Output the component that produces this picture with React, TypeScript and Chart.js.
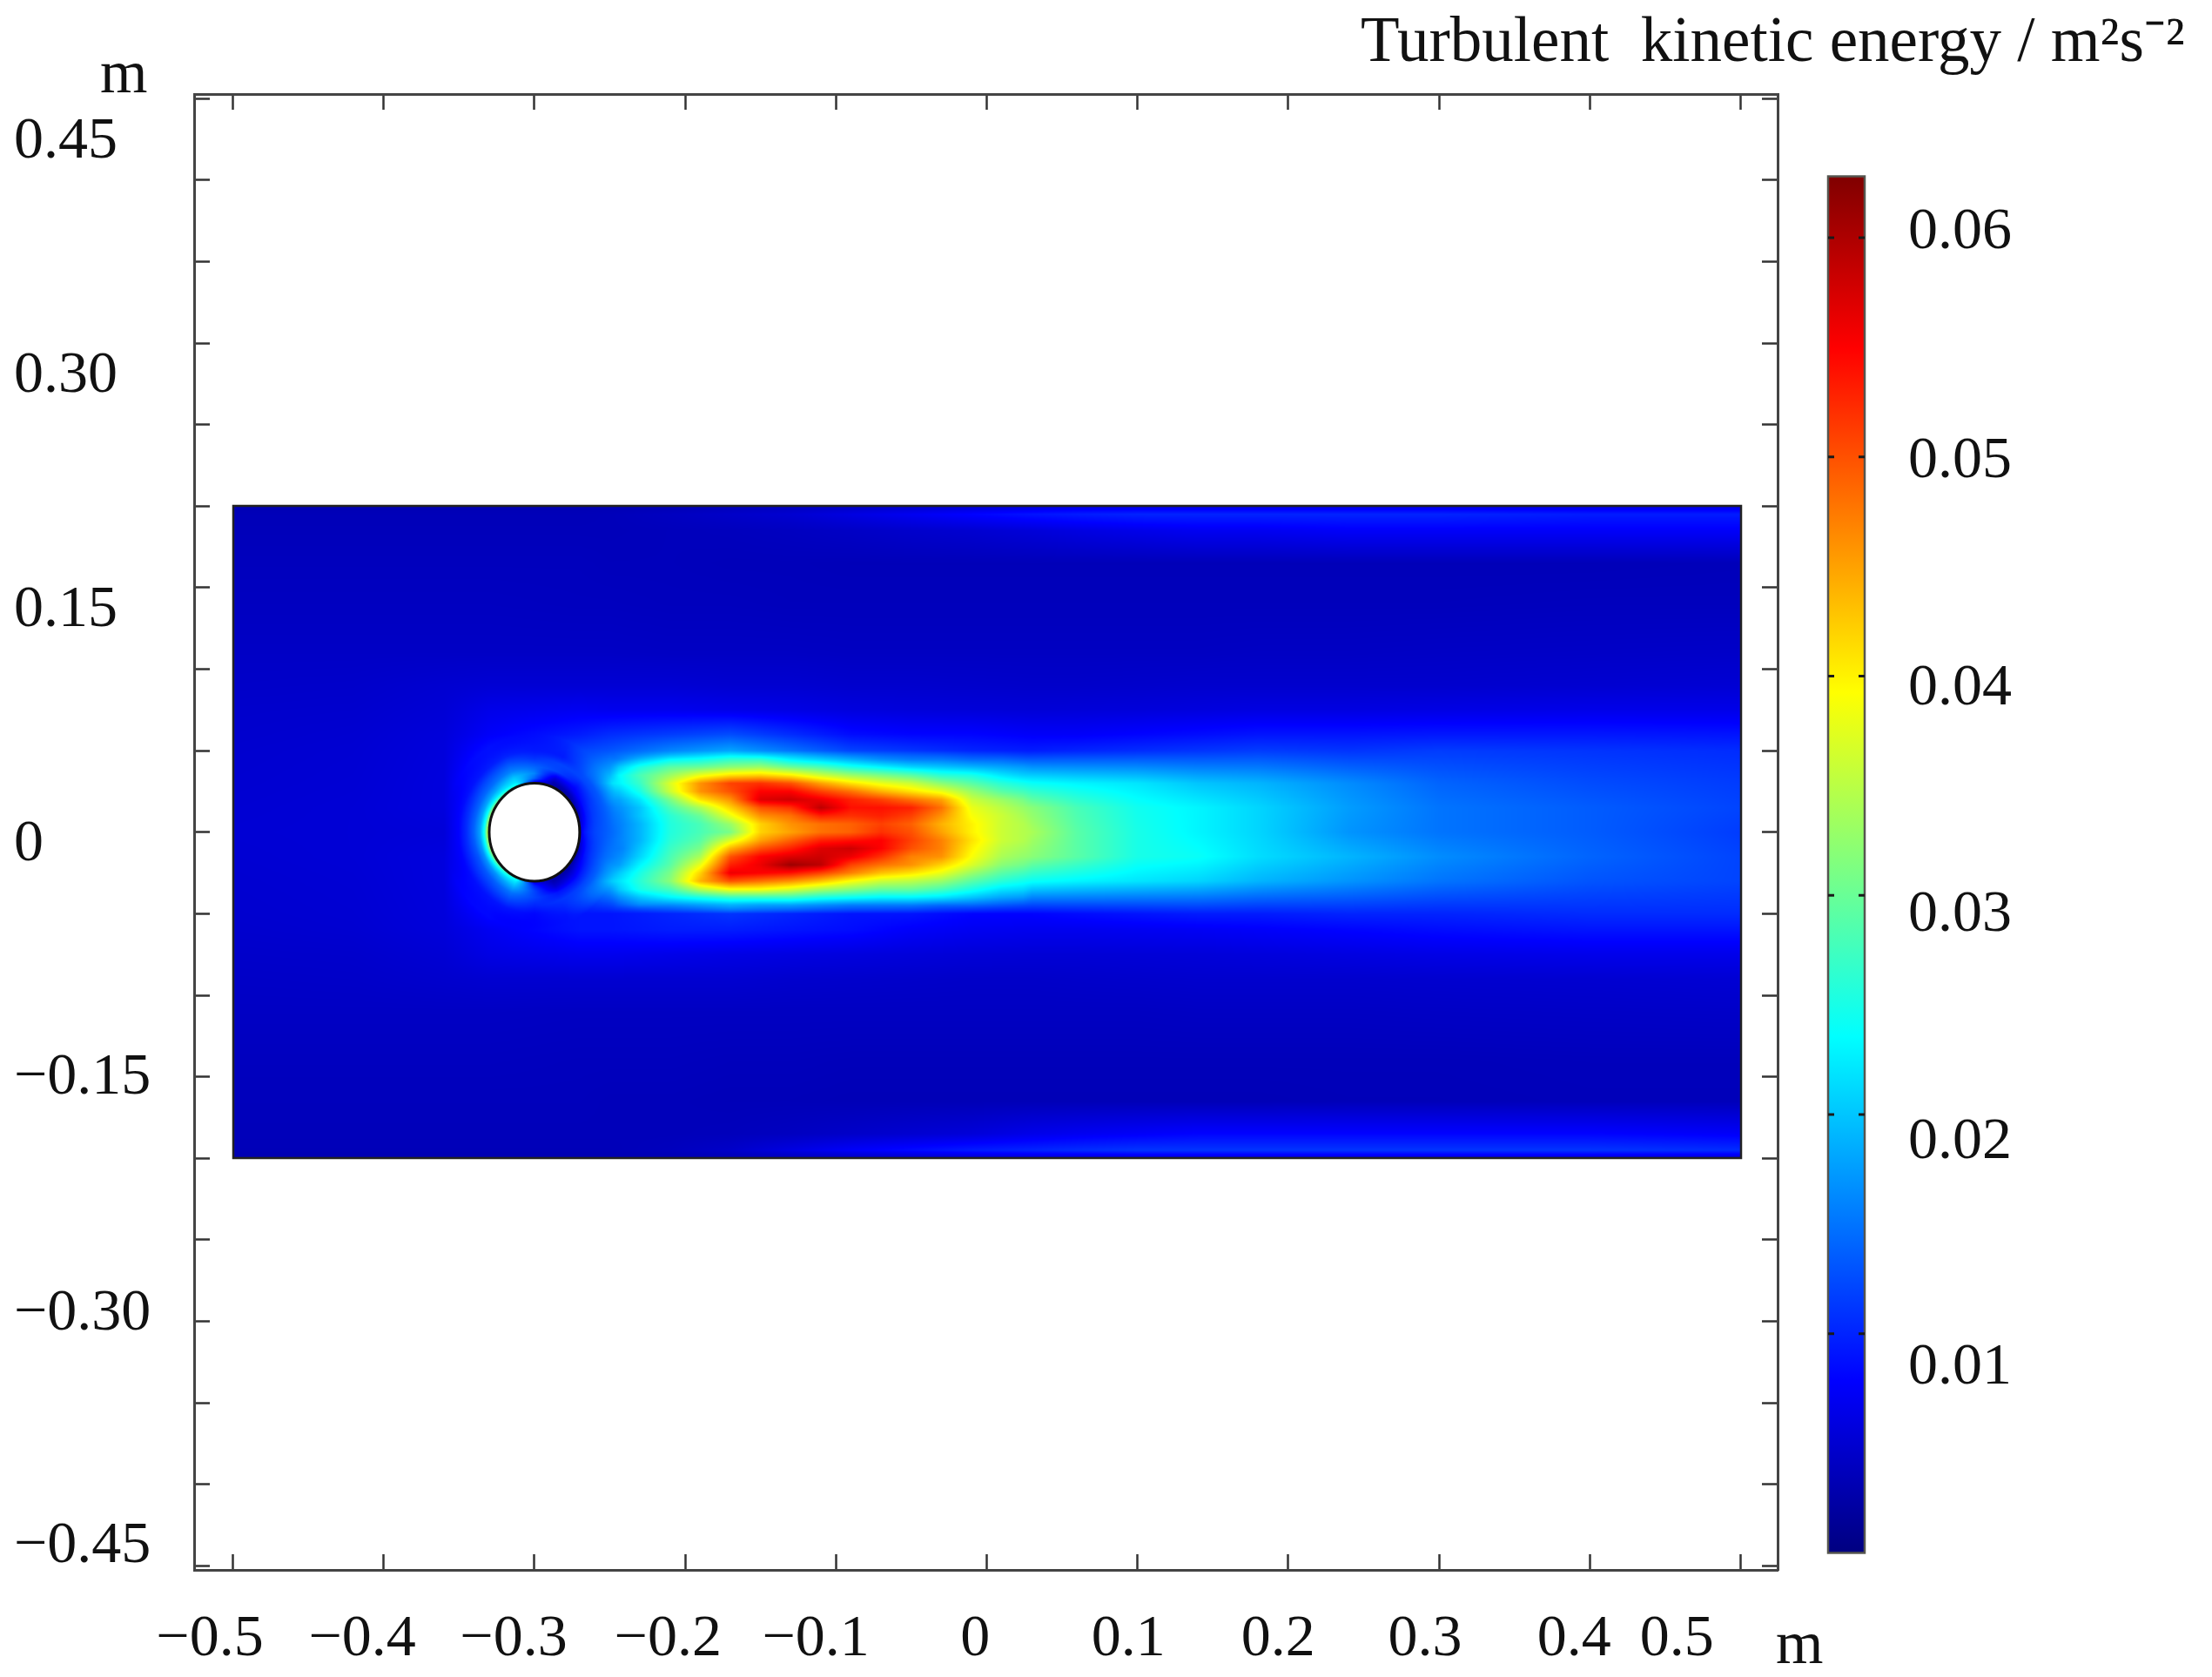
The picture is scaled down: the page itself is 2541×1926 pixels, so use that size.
import React, { useEffect, useRef } from "react";
import { Chart, registerables } from "chart.js";

Chart.register(...registerables);

// ---- axis ticks and labels (labels in the source sit apart from their ticks) ----
const xTickValues = [-0.5, -0.4, -0.3, -0.2, -0.1, 0, 0.1, 0.2, 0.3, 0.4, 0.5];
const xTickLabels = ["−0.5", "−0.4", "−0.3", "−0.2", "−0.1", "0", "0.1", "0.2", "0.3", "0.4", "0.5"];
const xLabelAnchors = [-0.5153, -0.4142, -0.3138, -0.2115, -0.1134, -0.0077, 0.0939, 0.1932, 0.2907, 0.3895, 0.4576];

const yTickValues = [0.45, 0.4, 0.35, 0.3, 0.25, 0.2, 0.15, 0.1, 0.05, 0, -0.05, -0.1, -0.15, -0.2, -0.25, -0.3, -0.35, -0.4, -0.45];
const yTickLabels = ["0.45", "0.30", "0.15", "0", "−0.15", "−0.30", "−0.45"];
const yLabelAnchors = [0.4234, 0.2797, 0.136, -0.0079, -0.1507, -0.2953, -0.4383];

const cbTickValues = [0.06, 0.05, 0.04, 0.03, 0.02, 0.01];
const cbTickLabels = ["0.06", "0.05", "0.04", "0.03", "0.02", "0.01"];
const cbLabelAnchors = [0.06025, 0.0498, 0.03943, 0.0291, 0.01873, 0.00842];
const cbMin = 0;
const cbMax = 0.0628;

const titleText = "Turbulent  kinetic energy / m²s⁻²";
const unitText = "m";

// ---- turbulent kinetic energy, in 0.001 m²/s² ----
const domain = { xMin: -0.5, xMax: 0.5, yMin: -0.2, yMax: 0.2 };
const cylinder = { x: -0.3, y: 0, r: 0.03 };

const fieldXs = [-0.5, -0.42, -0.36, -0.33, -0.27, -0.25, -0.21, -0.17, -0.13, -0.09, -0.05, -0.01, 0.03, 0.06, 0.1, 0.14, 0.18, 0.24, 0.3, 0.4, 0.5];
const fieldYs = [0.2, 0.195, 0.185, 0.165, 0.14, 0.11, 0.09, 0.075, 0.06, 0.05, 0.03, 0.015, 0, -0.015, -0.03, -0.05, -0.06, -0.075, -0.09, -0.11, -0.14, -0.165, -0.185, -0.195, -0.2];
const fieldRows = [
  [3.2, 3.2, 3.2, 3.2, 3.2, 3.2, 3.2, 3.5, 3.8, 4.2, 4.6, 5, 5.5, 6, 6, 6, 6, 6, 6, 6, 6],
  [3.5, 3.5, 3.5, 3.5, 3.5, 3.6, 4, 4.5, 5, 6, 7, 8, 9, 9.5, 10, 10, 10, 10, 10, 9.5, 9.5],
  [3.6, 3.6, 3.6, 3.6, 3.6, 3.6, 3.7, 3.8, 4, 4.3, 4.7, 5, 5.5, 6, 6.5, 7, 7, 7.5, 7.5, 7.5, 7.5],
  [3.8, 3.8, 3.8, 3.8, 3.8, 3.7, 3.7, 3.6, 3.6, 3.5, 3.5, 3.5, 3.5, 3.5, 3.5, 3.5, 3.5, 3.5, 3.5, 3.5, 3.6],
  [4, 4, 4, 4, 3.9, 3.9, 3.8, 3.8, 3.7, 3.7, 3.7, 3.7, 3.7, 3.7, 3.7, 3.7, 3.7, 3.7, 3.7, 3.8, 3.8],
  [4.3, 4.3, 4.3, 4.3, 4.3, 4.3, 4.2, 4.2, 4.2, 4.1, 4.1, 4.1, 4.1, 4.1, 4.1, 4.1, 4.2, 4.2, 4.3, 4.4, 4.5],
  [4.5, 4.6, 5, 5.2, 5.2, 5.2, 5.2, 5, 5, 4.8, 4.8, 4.7, 4.6, 4.6, 4.7, 4.8, 4.8, 4.8, 4.8, 5, 5.2],
  [4.7, 4.8, 5.3, 6.5, 7, 6.8, 6.8, 6.5, 6.2, 5.8, 5.6, 5.5, 5.4, 5.5, 5.6, 5.8, 6, 6, 6.2, 6.5, 6.5],
  [4.8, 5, 5.6, 7.5, 9.5, 10.5, 11.5, 12.5, 10.5, 8.5, 8, 8, 7.5, 7.5, 8, 8.5, 9, 9, 9.2, 9.2, 9],
  [4.9, 5.1, 5.7, 9, 12, 13, 16, 18, 15, 12, 11, 10, 9.5, 10, 10.5, 11, 11.5, 11, 11.5, 11, 10.5],
  [5, 5.2, 5.8, 12, 14, 21, 37, 50, 49, 39, 33, 28, 24, 23, 22, 20, 19, 16.5, 14, 12.5, 11.5],
  [5.1, 5.3, 5.8, 12, 13, 15, 28, 42, 51, 53, 51, 37, 32, 28, 24.5, 23, 21, 17.5, 15, 13.5, 12],
  [5.2, 5.3, 5.5, 12, 13, 14, 25.5, 30, 43, 47, 48, 41, 34, 29, 25, 23, 21, 17, 15, 13.5, 11.5],
  [5.1, 5.3, 5.8, 12, 13, 14, 28, 50, 57, 55, 44, 39, 32, 29, 25, 24, 21.5, 19, 16.5, 14, 12],
  [5, 5.2, 5.8, 12, 14, 20, 32, 49, 44, 37, 33, 28, 24, 23, 22, 21, 19, 17, 15, 13, 12],
  [4.9, 5.1, 5.7, 8.5, 9, 9, 10, 11, 10, 9, 9, 8, 8, 8.5, 9, 9.5, 9.5, 10, 10, 10.5, 10.5],
  [4.8, 5, 5.6, 7, 9, 9, 9.5, 9.5, 9, 8.5, 7.5, 7, 6.8, 6.8, 7, 7.2, 7.5, 8, 8.5, 9, 9],
  [4.6, 4.7, 5.2, 6.2, 6.8, 6.8, 6.5, 6.2, 6, 5.8, 5.6, 5.4, 5.3, 5.3, 5.4, 5.5, 5.7, 6, 6.3, 6.6, 6.6],
  [4.4, 4.5, 4.8, 5, 5, 5, 5, 5, 4.8, 4.7, 4.6, 4.5, 4.5, 4.6, 4.7, 4.8, 4.8, 4.8, 4.9, 5, 5.2],
  [4.2, 4.2, 4.2, 4.2, 4.1, 4.1, 4.1, 4.1, 4.1, 4.1, 4.1, 4.1, 4.1, 4.1, 4.1, 4.2, 4.2, 4.2, 4.3, 4.4, 4.5],
  [3.9, 3.9, 3.9, 3.9, 3.8, 3.8, 3.8, 3.7, 3.7, 3.6, 3.6, 3.6, 3.6, 3.6, 3.6, 3.6, 3.6, 3.6, 3.6, 3.7, 3.7],
  [3.7, 3.7, 3.7, 3.7, 3.7, 3.6, 3.6, 3.5, 3.5, 3.4, 3.4, 3.4, 3.4, 3.4, 3.4, 3.4, 3.4, 3.5, 3.5, 3.6, 3.6],
  [3.6, 3.6, 3.6, 3.6, 3.6, 3.6, 3.6, 3.7, 4, 4.5, 5, 5.5, 6.5, 7, 7.5, 8, 8, 8, 8, 8, 7.5],
  [3.5, 3.5, 3.5, 3.5, 3.5, 3.5, 3.8, 4.5, 6, 7.5, 8.5, 9.5, 10, 10.5, 11, 11, 11, 11, 11, 11, 10.5],
  [3, 3, 3, 3, 3, 3, 3, 3.2, 3.5, 3.8, 4.2, 4.6, 5, 5, 5.2, 5.2, 5.2, 5.2, 5.2, 5.2, 5],
];

// fine table around the hot lobes: one array per x station, values from y = 0.05 down to y = -0.05
const lobeYs = [0.05, 0.045, 0.04, 0.035, 0.03, 0.025, 0.02, 0.015, 0.01, 0.005, 0, -0.005, -0.01, -0.015, -0.02, -0.025, -0.03, -0.035, -0.04, -0.045, -0.05];
const lobeXs = [-0.25, -0.23, -0.21, -0.19, -0.17, -0.15, -0.13, -0.11, -0.09, -0.07, -0.05, -0.03, -0.01, 0.01, 0.03];
const lobeColumns = [
  [13, 14, 18, 21, 21, 18, 16, 15, 14, 14, 14, 14, 13, 14, 15, 18, 20, 18, 15, 12, 9],
  [14, 19, 25, 28, 27, 25, 22, 20, 20, 19, 19, 19, 20, 21, 23, 25, 26, 25, 20, 16, 10],
  [16, 23, 29, 33, 37, 36, 31, 28, 26, 25.5, 25.5, 26, 27, 28, 29, 31, 32, 28, 23, 16, 11],
  [17, 24, 30, 38, 46, 46, 41, 34, 30, 28, 28, 29, 31, 34, 38, 42, 44, 35, 25, 17, 11],
  [18, 26, 32, 41, 51, 50, 46, 42, 38, 33, 31, 37, 44, 50, 53, 56, 50, 39, 27, 18, 12],
  [17, 26, 33, 42, 52, 55, 57, 50, 46, 42, 42, 45, 50, 55, 56, 55, 48, 39, 27, 17, 11],
  [15, 22, 30, 40, 50, 55, 58, 52, 48, 46, 45, 49, 53, 57, 61, 54, 46, 37, 27, 17, 11],
  [13, 20, 28, 36, 45, 51, 56, 59, 53, 48, 48, 53, 57, 58, 59, 51, 43, 34, 25, 16, 10],
  [12, 18, 25, 33, 41, 48, 53, 54, 52, 49, 49, 54, 58, 56, 51, 47, 39, 32, 24, 15, 10],
  [11, 16, 23, 31, 38, 44, 51, 54, 53, 51, 52, 55, 55, 52, 48, 43, 36, 30, 23, 15, 10],
  [11, 15, 21, 29, 36, 41, 48, 53, 51, 49, 50, 51, 50, 47, 46, 41, 35, 30, 23, 15, 10],
  [11, 15, 20, 26, 32, 38, 45, 48, 46, 44, 45, 47, 47, 46, 42, 38, 33, 28, 22, 14, 9],
  [10, 14, 19, 25, 29, 33, 36, 38, 39, 40, 40, 41, 40, 39, 37, 33, 29, 25, 20, 14, 9],
  [10, 14, 18, 22, 26, 29, 33, 35, 36, 36, 36, 36, 35, 34, 32, 29, 26, 22, 18, 13, 8],
  [9, 13, 17, 20, 24, 27, 30, 32, 33, 34, 34, 34, 33, 32, 30, 27, 24, 21, 17, 12, 8],
];

// boundary layer round the cylinder: one array per angle (degrees from +x), values per radius
const ringRadii = [0.03, 0.0315, 0.033, 0.036, 0.04, 0.045, 0.05, 0.06];
const ringAngles = [0, 22.5, 45, 67.5, 90, 112.5, 135, 157.5, 180, 202.5, 225, 247.5, 270, 292.5, 315, 337.5];
const ringColumns = [
  [5, 7, 9, 10.5, 12, 13, 14, 16],
  [2.5, 3.5, 6, 9, 11, 12.5, 14, 19],
  [2, 2.5, 3.5, 7, 9, 12, 13.5, 15],
  [2, 2.5, 3, 6, 12, 12, 9, 7],
  [6, 10, 14, 16, 14, 11, 9, 7],
  [22, 24, 22, 20, 16, 13, 10, 6.5],
  [30, 26, 22, 18, 14.5, 12, 9, 6],
  [34, 30, 24, 18, 14, 11, 8.5, 5.7],
  [37, 33, 25, 18, 14, 10.5, 8, 5.6],
  [34, 30, 24, 17, 13, 10.5, 8, 5.6],
  [30, 26, 22, 17, 13.5, 11, 8.5, 5.8],
  [24, 24, 22, 19, 15, 12, 9, 6],
  [5, 8, 10, 12, 12, 10, 8, 6.5],
  [2, 2.5, 3.2, 5, 9, 11, 10, 8],
  [2, 2.5, 3.5, 6, 9, 12, 14, 17],
  [2.5, 3.5, 6, 9, 11, 13, 15, 20],
];

// ---- layout and style ----
const FONT = "'Liberation Serif', 'Times New Roman', serif";
const TEXT = "#111111";
const AXIS = "#444444";
const frame = { left: 223, top: 108, right: 2042, bottom: 1803 };
const barPx = { left: 2100, right: 2142 };
const xRange = { min: -0.5257, max: 0.5245 };
const yRange = { min: -0.4525, max: 0.4528 };
const cbRange = { min: -0.000776, max: 0.066555 };

const clamp01 = (v: number) => (v < 0 ? 0 : v > 1 ? 1 : v);
const jet = (f: number): [number, number, number] => [
  255 * clamp01(Math.min(4 * f - 1.5, -4 * f + 4.5)),
  255 * clamp01(Math.min(4 * f - 0.5, -4 * f + 3.5)),
  255 * clamp01(Math.min(4 * f + 0.5, -4 * f + 2.5)),
];

const bracket = (arr: number[], v: number, sign: number): [number, number] => {
  const t = v * sign;
  let i = 0;
  while (i < arr.length - 2 && arr[i + 1] * sign < t) i++;
  const a = clamp01((t - arr[i] * sign) / ((arr[i + 1] - arr[i]) * sign));
  return [i, a];
};

const sampleOuter = (x: number, y: number) => {
  const [i, a] = bracket(fieldXs, x, 1);
  const [j, b] = bracket(fieldYs, y, -1);
  const r0 = fieldRows[j], r1 = fieldRows[j + 1];
  return (r0[i] * (1 - a) + r0[i + 1] * a) * (1 - b) + (r1[i] * (1 - a) + r1[i + 1] * a) * b;
};
const sampleLobes = (x: number, y: number) => {
  const [i, a] = bracket(lobeXs, x, 1);
  const [j, b] = bracket(lobeYs, y, -1);
  const c0 = lobeColumns[i], c1 = lobeColumns[i + 1];
  return (c0[j] * (1 - b) + c0[j + 1] * b) * (1 - a) + (c1[j] * (1 - b) + c1[j + 1] * b) * a;
};
const sampleRing = (theta: number, r: number) => {
  const step = ringAngles[1] - ringAngles[0];
  const p = theta / step;
  const i = Math.floor(p) % ringAngles.length;
  const a = p - Math.floor(p);
  const c0 = ringColumns[i], c1 = ringColumns[(i + 1) % ringAngles.length];
  const [j, b] = bracket(ringRadii, r, 1);
  return (c0[j] * (1 - b) + c0[j + 1] * b) * (1 - a) + (c1[j] * (1 - b) + c1[j + 1] * b) * a;
};
const sampleField = (x: number, y: number) => {
  let v = sampleOuter(x, y);
  const edge = Math.min(x - lobeXs[0], lobeXs[lobeXs.length - 1] - x, y - lobeYs[lobeYs.length - 1], lobeYs[0] - y);
  if (edge > 0) {
    const w = clamp01(edge / 0.006);
    v = v * (1 - w) + sampleLobes(x, y) * w;
  }
  const dx = x - cylinder.x, dy = y - cylinder.y;
  const r = Math.hypot(dx, dy);
  if (r < ringRadii[ringRadii.length - 1]) {
    const w = clamp01((ringRadii[ringRadii.length - 1] - r) / 0.012);
    const theta = ((Math.atan2(dy, dx) * 180) / Math.PI + 360) % 360;
    v = v * (1 - w) + sampleRing(theta, Math.max(r, ringRadii[0])) * w;
  }
  return v;
};

const fieldPlugin = {
  id: "field",
  beforeDatasetsDraw(chart: any) {
    const { ctx } = chart;
    const sx = chart.scales.x, sy = chart.scales.y;
    const left = Math.round(sx.getPixelForValue(domain.xMin));
    const right = Math.round(sx.getPixelForValue(domain.xMax));
    const top = Math.round(sy.getPixelForValue(domain.yMax));
    const bottom = Math.round(sy.getPixelForValue(domain.yMin));
    const w = right - left, h = bottom - top;
    const off = document.createElement("canvas");
    off.width = w;
    off.height = h;
    const octx = off.getContext("2d")!;
    const img = octx.createImageData(w, h);
    for (let py = 0; py < h; py++) {
      const yv = sy.getValueForPixel(top + py + 0.5);
      for (let px = 0; px < w; px++) {
        const xv = sx.getValueForPixel(left + px + 0.5);
        const c = jet(sampleField(xv, yv) / (cbMax * 1000));
        const k = (py * w + px) * 4;
        img.data[k] = c[0];
        img.data[k + 1] = c[1];
        img.data[k + 2] = c[2];
        img.data[k + 3] = 255;
      }
    }
    octx.putImageData(img, 0, 0);
    ctx.save();
    ctx.drawImage(off, left, top);
    ctx.strokeStyle = "#222222";
    ctx.lineWidth = 2.5;
    ctx.strokeRect(left, top, w, h);
    // cylinder
    const cx = sx.getPixelForValue(cylinder.x), cy = sy.getPixelForValue(cylinder.y);
    const rx = Math.abs(sx.getPixelForValue(cylinder.x + cylinder.r) - cx);
    const ry = Math.abs(sy.getPixelForValue(cylinder.y + cylinder.r) - cy);
    ctx.beginPath();
    ctx.ellipse(cx, cy, rx, ry, 0, 0, Math.PI * 2);
    ctx.fillStyle = "#ffffff";
    ctx.fill();
    ctx.strokeStyle = "#111111";
    ctx.lineWidth = 3;
    ctx.stroke();

    // colour bar, drawn along its own scale
    const cb = chart.scales.cb;
    const bTop = cb.getPixelForValue(cbMax), bBottom = cb.getPixelForValue(cbMin);
    const g = ctx.createLinearGradient(0, bBottom, 0, bTop);
    [0, 0.125, 0.375, 0.625, 0.875, 1].forEach((f) => {
      const c = jet(f);
      g.addColorStop(f, `rgb(${c[0]},${c[1]},${c[2]})`);
    });
    ctx.fillStyle = g;
    ctx.fillRect(barPx.left, bTop, barPx.right - barPx.left, bBottom - bTop);
    ctx.strokeStyle = "#55554f";
    ctx.lineWidth = 2.5;
    ctx.strokeRect(barPx.left, bTop, barPx.right - barPx.left, bBottom - bTop);
    ctx.strokeStyle = "#1a1a1a";
    ctx.lineWidth = 3;
    cbTickValues.forEach((t) => {
      const p = cb.getPixelForValue(t);
      ctx.beginPath();
      ctx.moveTo(barPx.left, p);
      ctx.lineTo(barPx.left + 7, p);
      ctx.moveTo(barPx.right - 7, p);
      ctx.lineTo(barPx.right, p);
      ctx.stroke();
    });

    // free text
    ctx.fillStyle = TEXT;
    ctx.textBaseline = "alphabetic";
    ctx.textAlign = "left";
    ctx.font = `73px ${FONT}`;
    ctx.fillText(titleText, 1563, 70);
    ctx.font = `70px ${FONT}`;
    ctx.fillText(unitText, 115, 106);
    ctx.fillText(unitText, 2040, 1910);
    ctx.restore();
  },
};

const clearPadding = (scale: any) => {
  scale.paddingLeft = 0;
  scale.paddingRight = 0;
  scale.paddingTop = 0;
  scale.paddingBottom = 0;
};
const anchored = (anchors: number[]) => (scale: any) => {
  scale.ticks = anchors.map((value) => ({ value }));
};
const fixedHeight = (h: number) => (scale: any) => {
  scale.height = h;
  clearPadding(scale);
};
const fixedWidth = (w: number) => (scale: any) => {
  scale.width = w;
  clearPadding(scale);
};
const labelFont = { family: FONT, size: 68 };
const tickGrid = {
  drawOnChartArea: false,
  drawTicks: true,
  tickLength: -18,
  tickWidth: 2.5,
  tickColor: "#333333",
};
const frameBorder = { display: true, color: AXIS, width: 3 };
const noGrid = { display: false, drawTicks: false };
const noBorder = { display: false };

export default function App() {
  const ref = useRef<HTMLCanvasElement>(null);
  useEffect(() => {
    const chart = new Chart(ref.current!, {
      type: "scatter",
      data: {
        datasets: [
          {
            label: "Turbulent kinetic energy",
            xAxisID: "x",
            yAxisID: "y",
            data: fieldYs.flatMap((y, j) => fieldXs.map((x, i) => ({ x, y, v: fieldRows[j][i] }))),
            pointRadius: 0,
            pointHoverRadius: 0,
            showLine: false,
          },
        ],
      },
      options: {
        animation: false,
        responsive: false,
        devicePixelRatio: 1,
        events: [],
        layout: { padding: { left: 16, top: frame.top, right: 0, bottom: 0 } },
        plugins: { legend: { display: false }, tooltip: { enabled: false }, title: { display: false } },
        scales: {
          x: {
            axis: "x", type: "linear", position: "bottom", ...xRange, weight: 0,
            afterBuildTicks: anchored(xTickValues),
            afterFit: fixedHeight(0),
            ticks: { display: false, autoSkip: false },
            grid: tickGrid, border: frameBorder,
          },
          xLabels: {
            axis: "x", type: "linear", position: "bottom", ...xRange, weight: 1,
            afterBuildTicks: anchored(xLabelAnchors),
            afterFit: fixedHeight(1926 - frame.bottom),
            ticks: {
              autoSkip: false, maxRotation: 0, minRotation: 0, padding: 39, color: TEXT, font: labelFont,
              callback: (_v: any, i: number) => xTickLabels[i],
            },
            grid: noGrid, border: noBorder,
          },
          xTop: {
            axis: "x", type: "linear", position: "top", ...xRange,
            afterBuildTicks: anchored(xTickValues),
            afterFit: fixedHeight(0),
            ticks: { display: false, autoSkip: false },
            grid: tickGrid, border: frameBorder,
          },
          y: {
            axis: "y", type: "linear", position: "left", ...yRange, weight: 0,
            afterBuildTicks: anchored(yTickValues),
            afterFit: fixedWidth(0),
            ticks: { display: false, autoSkip: false },
            grid: tickGrid, border: frameBorder,
          },
          yLabels: {
            axis: "y", type: "linear", position: "left", ...yRange, weight: 1,
            afterBuildTicks: anchored(yLabelAnchors),
            afterFit: fixedWidth(frame.left - 16),
            ticks: {
              autoSkip: false, crossAlign: "far", color: TEXT, font: labelFont,
              callback: (_v: any, i: number) => yTickLabels[i],
            },
            grid: noGrid, border: noBorder,
          },
          yRight: {
            axis: "y", type: "linear", position: "right", ...yRange, weight: 0,
            afterBuildTicks: anchored(yTickValues),
            afterFit: fixedWidth(0),
            ticks: { display: false, autoSkip: false },
            grid: tickGrid, border: frameBorder,
          },
          cb: {
            axis: "y", type: "linear", position: "right", ...cbRange, weight: 1,
            afterBuildTicks: anchored(cbTickValues),
            afterFit: fixedWidth(0),
            ticks: { display: false, autoSkip: false },
            grid: noGrid, border: noBorder,
          },
          cbLabels: {
            axis: "y", type: "linear", position: "right", ...cbRange, weight: 2,
            afterBuildTicks: anchored(cbLabelAnchors),
            afterFit: fixedWidth(2541 - frame.right),
            ticks: {
              autoSkip: false, padding: 150, color: TEXT, font: labelFont,
              callback: (_v: any, i: number) => cbTickLabels[i],
            },
            grid: noGrid, border: noBorder,
          },
        },
      },
      plugins: [fieldPlugin],
    } as any);
    return () => chart.destroy();
  }, []);
  return (
    <canvas
      ref={ref}
      width={2541}
      height={1926}
      style={{ position: "absolute", left: 0, top: 0, width: 2541, height: 1926 }}
    />
  );
}
